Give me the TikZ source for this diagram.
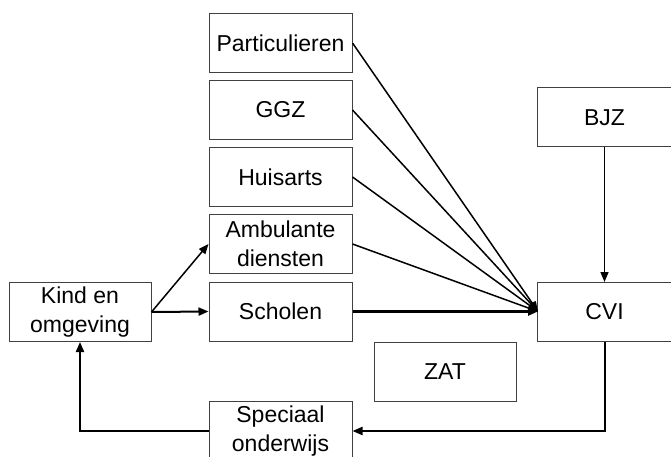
\documentclass[tikz,border=0pt]{standalone}
\usepackage{fontspec}
\setmainfont{Liberation Sans}
\usetikzlibrary{arrows.meta}
\tikzset{
  box/.style={draw=black!75, line width=1pt, minimum width=143pt, minimum height=59pt, inner sep=0pt, align=center, font=\fontsize{23}{29}\selectfont},
  conn/.style={draw=black, line width=1.5pt, -{Triangle[length=10pt,width=8pt]}},
  thick conn/.style={conn, line width=2.4pt}
}
\begin{document}
\begin{tikzpicture}[x=1pt,y=-1pt]
\useasboundingbox (0,0) rectangle (671,457);
\node[box] (part) at (280.5,43) {Particulieren};
\node[box] (ggz) at (280.5,110) {GGZ};
\node[box] (huis) at (280.5,177) {Huisarts};
\node[box] (amb) at (280.5,244) {Ambulante\\diensten};
\node[box] (sch) at (280.5,311.5) {Scholen};
\node[box] (spec) at (280.5,431) {Speciaal\\onderwijs};
\node[box, minimum width=142pt] (kind) at (80,312) {Kind en\\omgeving};
\node[box, minimum width=134pt] (bjz) at (604.5,117.5) {BJZ};
\node[box, minimum width=134pt] (cvi) at (604.5,312) {CVI};
\node[box, minimum width=142pt] (zat) at (445,371.5) {ZAT};
\coordinate (cviin) at (538,311.5);
\draw[conn] (part.east) -- (cviin);
\draw[conn] (ggz.east) -- (cviin);
\draw[conn] (huis.east) -- (cviin);
\draw[conn] (amb.east) -- (cviin);
\draw[thick conn] (sch.east) -- (cviin);
\draw[conn] (bjz.south) -- (cvi.north);
\draw[conn, line width=2pt] (cvi.south) |- (spec.east);
\draw[conn, line width=2pt] (spec.west) -| (kind.south);
\draw[conn, line width=2pt] (kind.east) -- (sch.west);
\draw[conn] (kind.east) -- (amb.west);
\end{tikzpicture}
\end{document}
